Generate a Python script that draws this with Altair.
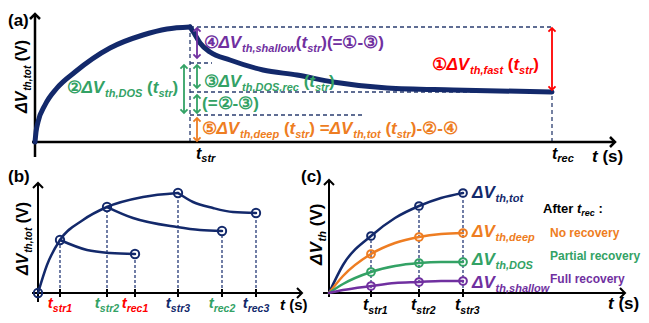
import altair as alt
import pandas as pd

FONT = "Liberation Sans"
NAVY = "#13296b"
ORANGE = "#ee7d22"
GREEN = "#33a265"
PURPLE = "#7030a0"
RED = "#ff0000"
BLACK = "#000000"
DASHC = "#2b3e70"

# ---------------- data (arbitrary units) ----------------
# (a) one stress -> recovery transient
A_STRESS_T = [0, 1, 3, 10, 22, 40, 75, 108, 132, 155]
A_STRESS_V = [0, 10, 20, 37, 54, 70, 94, 107, 113, 115]
A_RECOV_T = [155, 159, 165, 175, 195, 228, 262, 298, 352, 418, 517]
A_RECOV_V = [115, 109, 99, 90, 82, 72, 67, 60, 54, 52, 50]
A_T_STR, A_T_REC = 155, 517
A_V_TOT, A_V_DOS, A_V_REC, A_V_DEEP = 115, 79, 50, 27

# (b) three stress times, each followed by recovery
B_STRESS_T = [0, 9, 22, 45, 69, 105, 140]
B_STRESS_V = [0, 28, 53, 73, 86, 96, 100]
B_REC1_T = [22, 49, 72, 97]
B_REC1_V = [53, 43, 40, 39]
B_REC2_T = [69, 95, 139, 162, 184]
B_REC2_V = [86, 75, 66, 63, 62]
B_REC3_T = [140, 155, 175, 195, 218]
B_REC3_V = [100, 91, 85, 81, 80]
B_MARK_T = [0, 22, 69, 140, 97, 184, 218]
B_MARK_V = [0, 53, 86, 100, 39, 62, 80]
B_TICK_T = [22, 69, 97, 140, 184, 218]
B_TICK_SUB = ["str1", "str2", "rec1", "str3", "rec2", "rec3"]
B_TICK_COL = [RED, GREEN, RED, NAVY, GREEN, NAVY]

# (c) decomposition of the total shift
C_T = [0, 14, 42, 66, 90, 112, 134]
C_TOT = [0, 28, 57, 75, 87, 95, 100]
C_DEEP = [0, 17, 39, 50, 56, 59, 60]
C_DOS = [0, 9, 21, 27, 30, 31, 31]
C_SHALLOW = [0, 3, 7, 10, 11, 12, 12]
C_STR_IDX = [2, 4, 6]
C_STR_SUB = ["str1", "str2", "str3"]

# ---------------- helpers ----------------
WID = {' ': 278, '(': 333, ')': 333, '-': 333, '=': 584, ',': 278, ':': 333,
       'a': 556, 'b': 611, 'c': 556, 'd': 611, 'e': 556, 'f': 333, 'h': 611,
       'i': 278, 'l': 278, 'n': 611, 'o': 611, 'p': 611, 'r': 389, 's': 556,
       't': 333, 'u': 611, 'v': 556, 'w': 778, 'y': 556,
       'A': 722, 'D': 722, 'F': 611, 'N': 722, 'O': 778, 'P': 667, 'S': 667,
       'V': 667, '1': 556, '2': 556, '3': 556, 'Δ': 722,
       '①': 850, '②': 850, '③': 850, '④': 850, '⑤': 850}


def tw(s, size):
    return sum(WID.get(ch, 600) for ch in s) * size / 1000.0


def rich(segs, t0, v0, color, main=17, sub=11, shift=4, rotate=False, center=False):
    sizes = [sub if st == "s" else main for _, st in segs]
    total = sum(tw(s, z) for (s, _), z in zip(segs, sizes))
    pos = -total / 2 if center else 0.0
    rows = []
    for (s, st), z in zip(segs, sizes):
        body = s.strip(" ")
        lead = len(s) - len(s.lstrip(" "))
        trail = len(s) - len(s.rstrip(" ")) if body else 0
        pos += tw(" " * lead, z)
        if body:
            off = shift if st == "s" else 0
            if rotate:
                rows.append(dict(t=t0 + off, v=v0 + pos, text=body, size=z,
                                 it=st != "n", color=color, angle=270))
            else:
                rows.append(dict(t=t0 + pos, v=v0 - off, text=body, size=z,
                                 it=st != "n", color=color, angle=0))
            pos += tw(body, z)
        pos += tw(" " * trail, z)
    return rows


def dv(sub):
    return [("ΔV", "i"), (sub, "s")]


def tsub(sub):
    return [("t", "i"), (sub, "s")]


def enc_xy(xd, yd):
    return dict(
        x=alt.X("t:Q", scale=alt.Scale(domain=xd, nice=False, zero=False), axis=None),
        y=alt.Y("v:Q", scale=alt.Scale(domain=yd, nice=False, zero=False), axis=None),
    )


def line_layer(series, xd, yd, width):
    rows = []
    for name, ts, vs, col in series:
        for t, v in zip(ts, vs):
            rows.append(dict(t=t, v=v, s=name, color=col))
    return alt.Chart(pd.DataFrame(rows)).mark_line(
        interpolate="monotone", strokeWidth=width, strokeCap="round", strokeJoin="round"
    ).encode(**enc_xy(xd, yd), detail="s:N", color=alt.Color("color:N", scale=None))


def rule_layer(rows, xd, yd, width, dash=None):
    kw = dict(strokeWidth=width)
    if dash:
        kw["strokeDash"] = dash
    return alt.Chart(pd.DataFrame(rows)).mark_rule(**kw).encode(
        **enc_xy(xd, yd), x2="t2:Q", y2="v2:Q", color=alt.Color("color:N", scale=None))


def point_layer(rows, xd, yd, shape, size, width):
    return alt.Chart(pd.DataFrame(rows)).mark_point(
        shape=shape, filled=False, size=size, strokeWidth=width, opacity=1
    ).encode(**enc_xy(xd, yd), color=alt.Color("color:N", scale=None))


def text_layers(rows, xd, yd):
    df = pd.DataFrame(rows)
    out = []
    for it in (True, False):
        d = df[df["it"] == it].drop(columns=["it"])
        if len(d) == 0:
            continue
        out.append(alt.Chart(d).mark_text(
            font=FONT, fontWeight="bold", fontStyle="italic" if it else "normal",
            align="left", baseline="alphabetic"
        ).encode(**enc_xy(xd, yd), text="text:N",
                 size=alt.Size("size:Q", scale=None),
                 color=alt.Color("color:N", scale=None),
                 angle=alt.Angle("angle:Q", scale=None)))
    return out


UP = "M-1,1L0,0L1,1"
DOWN = "M-1,-1L0,0L1,-1"
RIGHT = "M-1,-1L0,0L-1,1"


def seg(t, v, t2, v2, color):
    return dict(t=t, v=v, t2=t2, v2=v2, color=color)


def axes(xd, yd, x_lo, x_hi, y_lo, y_hi, w):
    return [
        rule_layer([seg(x_lo, 0, x_hi - 1, 0, BLACK), seg(0, y_lo, 0, y_hi - 1, BLACK)], xd, yd, w),
        point_layer([dict(t=0, v=y_hi, color=BLACK)], xd, yd, UP, 100, w),
        point_layer([dict(t=x_hi, v=0, color=BLACK)], xd, yd, RIGHT, 100, w),
    ]


# ---------------- panel (a) ----------------
XA, YA = [-27, 606], [-23, 129]
a_dash = [
    seg(A_T_STR, 0, A_T_STR, A_V_TOT, DASHC),
    seg(A_T_REC, 0, A_T_REC, A_V_REC, DASHC),
    seg(A_T_STR, A_V_TOT, A_T_REC, A_V_TOT, DASHC),
    seg(A_T_STR, A_V_DOS, A_T_STR + 22, A_V_DOS, DASHC),
    seg(A_T_STR, A_V_REC, A_T_REC, A_V_REC, DASHC),
    seg(A_T_STR, A_V_DEEP, A_T_STR + 175, A_V_DEEP, DASHC),
]
a_arrows = [
    (A_T_STR + 7, A_V_DOS + 5, A_V_TOT - 1, PURPLE),
    (A_T_STR - 6, A_V_DEEP + 2, A_V_DOS - 2, GREEN),
    (A_T_STR + 7, A_V_REC + 4, A_V_DOS - 2, GREEN),
    (A_T_STR + 7, A_V_DEEP + 2, A_V_REC - 3, GREEN),
    (A_T_STR + 7, 1, A_V_DEEP - 3, ORANGE),
    (A_T_REC, A_V_REC + 2, A_V_TOT - 1, RED),
]
a_text = []
a_text += rich([("(a)", "n")], -27, 116, BLACK)
a_text += rich(dv("th,tot") + [(" (V)", "n")], -8, 29, BLACK, main=16, sub=10, shift=3.5, rotate=True)
a_text += rich([("②", "n")] + dv("th,DOS") + [(" (", "n")] + tsub("str") + [(")", "n")], 32, 49, GREEN)
a_text += rich([("④", "n")] + dv("th,shallow") + [("(", "n")] + tsub("str") + [(")(=①-③)", "n")], 169, 94, PURPLE)
a_text += rich([("③", "n")] + dv("th,DOS,rec") + [(" (", "n")] + tsub("str") + [(")", "n")], 169, 55.5, GREEN)
a_text += rich([("(=②-③)", "n")], 167, 33.5, GREEN)
a_text += rich([("⑤", "n")] + dv("th,deep") + [(" (", "n")] + tsub("str") + [(") =", "n")]
               + dv("th,tot") + [(" (", "n")] + tsub("str") + [(")-②-④", "n")], 167, 8, ORANGE)
a_text += rich([("①", "n")] + dv("th,fast") + [(" (", "n")] + tsub("str") + [(")", "n")], 397, 72.5, RED)
a_text += rich(tsub("str"), A_T_STR + 6, -16.5, BLACK, main=16, sub=11, shift=3)
a_text += rich(tsub("rec"), A_T_REC, -16.5, BLACK, main=16, sub=11, shift=3)
a_text += rich([("t", "i"), (" (s)", "n")], 557, -19.5, BLACK)

a_layers = [rule_layer(a_dash, XA, YA, 1.3, [4, 3])]
a_layers += axes(XA, YA, -3, 580, -15, 128, 2.5)
a_layers.append(line_layer([("stress", A_STRESS_T, A_STRESS_V, NAVY),
                            ("recovery", A_RECOV_T, A_RECOV_V, NAVY)], XA, YA, 5))
a_layers.append(rule_layer([seg(t, lo, t, hi, c) for t, lo, hi, c in a_arrows], XA, YA, 1.8))
a_layers.append(point_layer([dict(t=t, v=hi, color=c) for t, lo, hi, c in a_arrows], XA, YA, UP, 50, 1.8))
a_layers.append(point_layer([dict(t=t, v=lo, color=c) for t, lo, hi, c in a_arrows], XA, YA, DOWN, 50, 1.8))
a_layers += text_layers(a_text, XA, YA)
panel_a = alt.layer(*a_layers).properties(width=633, height=152)

# ---------------- panel (b) ----------------
XB, YB = [-30, 267], [-27, 128]
b_dash = [seg(t, 0, t, v - 4.5, NAVY) for t, v in zip(B_MARK_T[1:], B_MARK_V[1:])]
b_ticks = [seg(t, -4, t, 4, BLACK) for t in B_TICK_T]
b_text = []
b_text += rich([("(b)", "n")], -30, 111, BLACK)
b_text += rich(dv("th,tot") + [(" (V)", "n")], -10, 18, BLACK, main=16, sub=10, shift=3.5, rotate=True)
for t, s, c in zip(B_TICK_T, B_TICK_SUB, B_TICK_COL):
    b_text += rich(tsub(s), t, -15, c, main=15, sub=10.5, shift=3.5, center=True)
b_text += rich([("t", "i"), (" (s)", "n")], 242, -17, BLACK, main=15)

b_layers = [rule_layer(b_dash, XB, YB, 1.2, [3, 2])]
b_layers += axes(XB, YB, -6, 264, -9, 110, 2)
b_layers.append(rule_layer(b_ticks, XB, YB, 2))
b_layers.append(line_layer([("s", B_STRESS_T, B_STRESS_V, NAVY), ("r1", B_REC1_T, B_REC1_V, NAVY),
                            ("r2", B_REC2_T, B_REC2_V, NAVY), ("r3", B_REC3_T, B_REC3_V, NAVY)],
                           XB, YB, 2.5))
b_layers.append(point_layer([dict(t=t, v=v, color=NAVY) for t, v in zip(B_MARK_T, B_MARK_V)],
                            XB, YB, "circle", 70, 2))
b_layers += text_layers(b_text, XB, YB)
panel_b = alt.layer(*b_layers).properties(width=297, height=155)

# ---------------- panel (c) ----------------
XC, YC = [-24, 312], [-27, 128]
c_series = [("tot", C_TOT, NAVY), ("deep", C_DEEP, ORANGE), ("dos", C_DOS, GREEN), ("shallow", C_SHALLOW, PURPLE)]
c_dash = [seg(C_T[i], 0, C_T[i], C_TOT[i] - 4.5, NAVY) for i in C_STR_IDX]
c_ticks = [seg(C_T[i], -4, C_T[i], 4, BLACK) for i in C_STR_IDX]
c_pts = [dict(t=C_T[i], v=vals[i], color=col) for _, vals, col in c_series for i in C_STR_IDX]
c_text = []
c_text += rich([("(c)", "n")], -28, 111, BLACK)
c_text += rich(dv("th") + [(" (V)", "n")], -7, 28, BLACK, main=17, sub=11, shift=4, rotate=True)
c_text += rich(dv("th,tot"), 143, 95.5, NAVY)
c_text += rich(dv("th,deep"), 143, 56.5, ORANGE)
c_text += rich(dv("th,DOS"), 143, 28, GREEN)
c_text += rich(dv("th,shallow"), 143, 5, PURPLE)
c_text += rich([("After ", "n")] + tsub("rec") + [(" :", "n")], 214, 80, BLACK, main=13, sub=9, shift=3)
c_text += rich([("No recovery", "n")], 221, 56.5, ORANGE, main=12)
c_text += rich([("Partial recovery", "n")], 221, 33.5, GREEN, main=12)
c_text += rich([("Full recovery", "n")], 221, 10.5, PURPLE, main=12)
for i, s in zip(C_STR_IDX, C_STR_SUB):
    c_text += rich(tsub(s), C_T[i] - 8, -17, BLACK, main=16, sub=10.5, shift=3.5)
c_text += rich([("t", "i"), (" (s)", "n")], 279, -16, BLACK)

c_layers = [rule_layer(c_dash, XC, YC, 1.2, [3, 2])]
c_layers += axes(XC, YC, -6, 296, -4, 113, 2)
c_layers.append(rule_layer(c_ticks, XC, YC, 2))
c_layers.append(line_layer([(n, C_T, vals, col) for n, vals, col in c_series], XC, YC, 2.5))
c_layers.append(point_layer(c_pts, XC, YC, "circle", 60, 2))
c_layers += text_layers(c_text, XC, YC)
panel_c = alt.layer(*c_layers).properties(width=336, height=155)

chart = alt.vconcat(
    panel_a,
    alt.hconcat(panel_b, panel_c, spacing=0, bounds="flush"),
    spacing=0, bounds="flush",
).properties(padding=0, background="white").configure_view(stroke=None)

chart.save("out.html", embed_options={"renderer": "svg", "actions": False})
